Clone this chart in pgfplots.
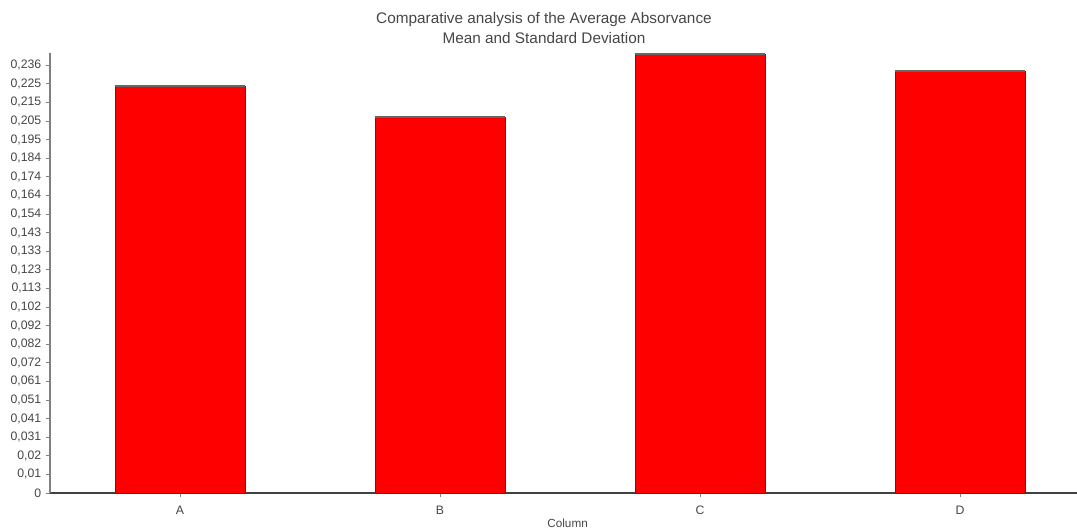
\documentclass[border=0pt]{standalone}
\usepackage{fontspec}
\setmainfont{Liberation Sans}
\usepackage{pgfplots}
\pgfplotsset{compat=1.18}
\definecolor{txt}{RGB}{70,70,70}
\begin{document}
\begin{tikzpicture}
\useasboundingbox (0pt,0pt) rectangle (807.75pt,396.75pt);
\begin{axis}[
  at={(37.5pt,27pt)}, anchor=south west,
  scale only axis, width=770.25pt, height=330pt,
  ybar, bar width=97.5pt,
  xmin=-0.5, xmax=3.45, ymin=0, ymax=0.2423,
  axis x line*=bottom, axis y line*=left,
  x axis line style={-, draw=black!75, line width=1.4pt},
  y axis line style={-, draw=gray, line width=1.8pt},
  xtick={0,1,2,3}, xticklabels={A,B,C,D},
  ytick={0,0.010245,0.02049,0.030735,0.04098,0.051225,0.06147,0.071715,0.08196,0.092205,0.10245,0.112695,0.12294,0.133185,0.14343,0.153675,0.16392,0.174165,0.18441,0.194655,0.2049,0.215145,0.22539,0.235635},
  yticklabels={{0},{0,01},{0,02},{0,031},{0,041},{0,051},{0,061},{0,072},{0,082},{0,092},{0,102},{0,113},{0,123},{0,133},{0,143},{0,154},{0,164},{0,174},{0,184},{0,195},{0,205},{0,215},{0,225},{0,236}},
  tick align=outside, major tick length=3pt,
  tick style={draw=gray, line width=0.6pt},
  tick label style={font=\fontsize{9.2}{11}\selectfont, text=txt},
  xticklabel style={yshift=-3pt},
  xlabel={Column},
  xlabel style={font=\fontsize{8.8}{10}\selectfont, text=txt, at={(axis description cs:0.504,0)}, anchor=center, yshift=-22.5pt},
  title={Comparative analysis of the Average Absorvance\\Mean and Standard Deviation},
  title style={font=\fontsize{11.5}{15}\selectfont, text=txt, align=center, at={(axis description cs:0.481,1)}, anchor=south, yshift=-2.5pt},
]
\addplot[fill=red, draw=black!80, line width=0.6pt,
  error bars/.cd, y dir=plus, y explicit, error mark=|,
  error bar style={draw=gray, line width=0.8pt},
  error mark options={draw=gray!80!black, line width=1.8pt, mark size=48.5pt}]
  coordinates {(0,0.2241) +- (0,0.0001) (1,0.2070) +- (0,0.0001) (2,0.2417) +- (0,0.0001) (3,0.2324) +- (0,0.0001)};
\end{axis}
\end{tikzpicture}
\end{document}
